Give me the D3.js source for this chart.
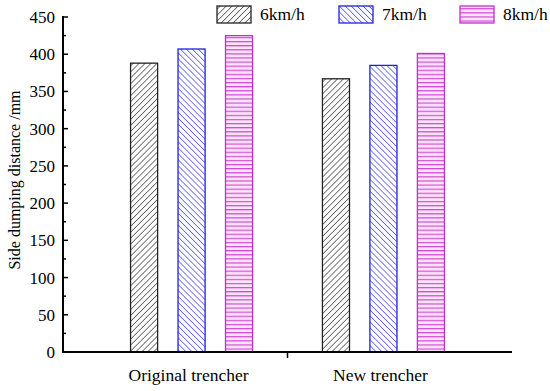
<!DOCTYPE html>
<html>
<head>
<meta charset="utf-8">
<script src="https://cdn.jsdelivr.net/npm/d3@7"></script>
<style>
  body { margin: 0; background: #fff; }
  svg text { font-family: "Liberation Serif", "Times New Roman", serif; fill: #000; }
</style>
</head>
<body>
<svg width="550" height="391"></svg>
<script>
let groups = ["Original trencher", "New trencher"];
let speeds = ["6km/h", "7km/h", "8km/h"];
let val6 = [388, 367];
let val7 = [407, 385];
let val8 = [425, 401];
let yTicks = [0, 50, 100, 150, 200, 250, 300, 350, 400, 450];

let series = [val6, val7, val8];

let svg = d3.select("svg"),
	mLeft = 63,
	mRight = 512,
	mTop = 17,
	mBottom = 352;

// hatch patterns
let defs = svg.append("defs");
let pat6 = defs.append("pattern").attr("id", "p6")
	.attr("patternUnits", "userSpaceOnUse").attr("width", 4.2).attr("height", 4.2)
	.attr("patternTransform", "rotate(45)");
pat6.append("rect").attr("width", 4.2).attr("height", 4.2).attr("fill", "#fff");
pat6.append("line").attr("x1", 0).attr("y1", 0).attr("x2", 0).attr("y2", 4.2)
	.attr("stroke", "#333").attr("stroke-width", 1.3);

let pat7 = defs.append("pattern").attr("id", "p7")
	.attr("patternUnits", "userSpaceOnUse").attr("width", 4.2).attr("height", 4.2)
	.attr("patternTransform", "rotate(-45)");
pat7.append("rect").attr("width", 4.2).attr("height", 4.2).attr("fill", "#fff");
pat7.append("line").attr("x1", 0).attr("y1", 0).attr("x2", 0).attr("y2", 4.2)
	.attr("stroke", "#3a3ae8").attr("stroke-width", 1.3);

let pat8 = defs.append("pattern").attr("id", "p8")
	.attr("patternUnits", "userSpaceOnUse").attr("width", 4).attr("height", 4.1);
pat8.append("rect").attr("width", 4).attr("height", 4.1).attr("fill", "#fde3fb");
pat8.append("line").attr("x1", 0).attr("y1", 0.6).attr("x2", 4).attr("y2", 0.6)
	.attr("stroke", "#d24ad6").attr("stroke-width", 1.2);

let fills = ["url(#p6)", "url(#p7)", "url(#p8)"];
let strokes = ["#222", "#2020e0", "#c030d0"];

let y = d3.scaleLinear().domain([0, 450]).range([mBottom, mTop]);
let x0 = d3.scalePoint().domain(groups).range([mLeft, mRight]).padding(0.67);
let x1 = d3.scaleBand().domain(speeds).range([-61, 61]).paddingInner(0.43).paddingOuter(0);

// bars
let g = svg.append("g");
groups.forEach((grp, gi) => {
	speeds.forEach((sp, si) => {
		let v = series[si][gi];
		g.append("rect")
			.attr("x", x0(grp) + x1(sp))
			.attr("y", y(v))
			.attr("width", x1.bandwidth())
			.attr("height", mBottom - y(v))
			.attr("fill", fills[si])
			.attr("stroke", strokes[si])
			.attr("stroke-width", 1.3);
	});
});

// y axis
let yAxis = svg.append("g").attr("transform", `translate(${mLeft},0)`)
	.call(d3.axisLeft(y).tickValues(yTicks).tickSize(0).tickPadding(8));
yAxis.select(".domain").remove();
yAxis.selectAll("text").attr("font-size", 17);
svg.append("g").selectAll("line").data(yTicks).join("line")
	.attr("x1", mLeft).attr("x2", mLeft + 5)
	.attr("y1", d => y(d)).attr("y2", d => y(d))
	.attr("stroke", "#000").attr("stroke-width", 1.5);
svg.append("g").selectAll("line").data(d3.range(25, 450, 50)).join("line")
	.attr("x1", mLeft).attr("x2", mLeft + 3)
	.attr("y1", d => y(d)).attr("y2", d => y(d))
	.attr("stroke", "#000").attr("stroke-width", 1.5);
svg.append("line").attr("x1", mLeft).attr("x2", mLeft)
	.attr("y1", mTop - 1).attr("y2", mBottom + 1)
	.attr("stroke", "#000").attr("stroke-width", 2);

// x axis
svg.append("line").attr("x1", mLeft).attr("x2", mRight)
	.attr("y1", mBottom).attr("y2", mBottom)
	.attr("stroke", "#000").attr("stroke-width", 2);
svg.append("line").attr("x1", (mLeft + mRight) / 2).attr("x2", (mLeft + mRight) / 2)
	.attr("y1", mBottom).attr("y2", mBottom + 6)
	.attr("stroke", "#000").attr("stroke-width", 1.5);
svg.append("g").selectAll("text").data(groups).join("text")
	.attr("x", d => x0(d) - 3)
	.attr("y", 381)
	.attr("text-anchor", "middle")
	.attr("font-size", 17.5)
	.text(d => d);

// y label
svg.append("text")
	.attr("transform", `translate(20,180) rotate(-90)`)
	.attr("text-anchor", "middle")
	.attr("font-size", 16)
	.text("Side dumping distance /mm");

// legend
let lx = [217, 339, 460];
let leg = svg.append("g");
speeds.forEach((sp, i) => {
	leg.append("rect")
		.attr("x", lx[i]).attr("y", 6).attr("width", 34).attr("height", 17)
		.attr("fill", fills[i]).attr("stroke", strokes[i]).attr("stroke-width", 1.3);
	leg.append("text")
		.attr("x", lx[i] + 43).attr("y", 20)
		.attr("font-size", 17.5)
		.text(sp);
});
</script>
</body>
</html>
